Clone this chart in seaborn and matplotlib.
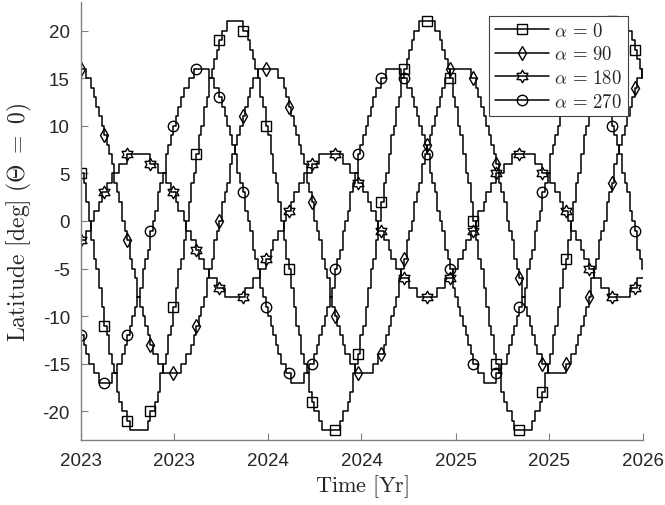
import numpy as np
import pandas as pd
import matplotlib
matplotlib.use('Agg')
import matplotlib.pyplot as plt
import matplotlib.dates as mdates
from matplotlib.path import Path
import seaborn as sns

# Latitude (deg), one value every 5 days from 2023-01-01
start_date = '2023-01-01'
sample_step = '5D'

lat_a0 = [
    5, 4, 2, 0, -2, -4, -5, -7, -9, -11, -12, -14, -15, -16, -18, -19, -20, -20, -21, -22, -22, -22,
    -22, -22, -22, -22, -21, -20, -20, -19, -18, -16, -15, -14, -12, -11, -9, -7, -5, -4, -2, 0,
    2, 4, 5, 7, 9, 10, 12, 13, 15, 16, 17, 18, 19, 20, 20, 21, 21, 21,
    21, 21, 21, 20, 20, 19, 18, 17, 16, 15, 13, 12, 10, 9, 7, 5, 4, 2, 0, -2,
    -4, -5, -7, -9, -11, -12, -14, -15, -16, -18, -19, -20, -20, -21, -22, -22, -22,
    -22, -22, -22, -22, -21, -20, -20, -19, -18, -16, -15, -14, -12, -11, -9, -7, -5, -4, -2, 0,
    2, 4, 5, 7, 9, 10, 12, 13, 15, 16, 17, 18, 19, 20, 20, 21, 21, 21,
    21, 21, 21, 20, 20, 19, 18, 17, 16, 15, 13, 12, 10, 9, 7, 5, 4, 2, 0, -2,
    -4, -5, -7, -9, -11, -12, -14, -15, -16, -18, -19, -20, -20, -21, -22, -22, -22,
    -22, -22, -22, -22, -21, -20, -20, -19, -18, -16, -15, -14, -12, -11, -9, -7, -5, -4, -2, 0,
    2, 4, 5, 7, 9, 10, 12, 13, 15, 16, 17, 18, 19, 20, 20, 21, 21, 21,
    21, 21, 21, 20, 20, 19, 18, 17, 16, 15, 13,
]

lat_a90 = [
    16, 16, 15, 15, 14, 13, 12, 11, 10, 9, 8, 7, 6, 4, 3, 2, 0, -1, -2, -4,
    -5, -6, -8, -9, -10, -11, -12, -13, -14, -14, -15, -15, -16, -16, -16,
    -16, -16, -16, -16, -15, -15, -14, -14, -13, -12, -11, -10, -9, -8, -6, -5, -4, -2, -1, 0,
    2, 3, 4, 6, 7, 8, 9, 10, 11, 12, 13, 14, 15, 15, 16, 16, 16, 16,
    16, 16, 16, 16, 15, 15, 14, 13, 12, 11, 10, 9, 8, 7, 6, 4, 3, 2, 0, -1,
    -2, -4, -5, -6, -8, -9, -10, -11, -12, -13, -14, -14, -15, -15, -16, -16, -16,
    -16, -16, -16, -16, -15, -15, -14, -14, -13, -12, -11, -10, -9, -8, -6, -5, -4, -2, -1, 0,
    2, 3, 4, 6, 7, 8, 9, 10, 11, 12, 13, 14, 15, 15, 16, 16, 16, 16,
    16, 16, 16, 16, 15, 15, 14, 13, 12, 11, 10, 9, 8, 7, 6, 4, 3, 2, 0, -1,
    -2, -4, -5, -6, -8, -9, -10, -11, -12, -13, -14, -14, -15, -15, -16, -16, -16,
    -16, -16, -16, -16, -15, -15, -14, -14, -13, -12, -11, -10, -9, -8, -6, -5, -4, -2, -1, 0,
    2, 3, 4, 6, 7, 8, 9, 10, 11, 12, 13, 14, 15, 15, 16, 16,
]

lat_a180 = [
    -2, -2, -1, -1, 0, 1, 1, 2, 3, 3, 4, 4, 5, 5, 5, 6, 6, 6, 7, 7, 7, 7,
    7, 7, 7, 7, 7, 6, 6, 6, 5, 5, 5, 4, 4, 3, 3, 2, 1, 1, 0, -1,
    -1, -2, -2, -3, -4, -4, -5, -5, -6, -6, -6, -7, -7, -7, -8, -8, -8, -8,
    -8, -8, -8, -8, -7, -7, -7, -6, -6, -6, -5, -5, -4, -4, -3, -2, -2, -1, -1, 0,
    1, 1, 2, 3, 3, 4, 4, 5, 5, 5, 6, 6, 6, 7, 7, 7, 7,
    7, 7, 7, 7, 7, 6, 6, 6, 5, 5, 5, 4, 4, 3, 3, 2, 1, 1, 0, -1,
    -1, -2, -2, -3, -4, -4, -5, -5, -6, -6, -6, -7, -7, -7, -8, -8, -8, -8,
    -8, -8, -8, -8, -7, -7, -7, -6, -6, -6, -5, -5, -4, -4, -3, -2, -2, -1, -1, 0,
    1, 1, 2, 3, 3, 4, 4, 5, 5, 5, 6, 6, 6, 7, 7, 7, 7,
    7, 7, 7, 7, 7, 6, 6, 6, 5, 5, 5, 4, 4, 3, 3, 2, 1, 1, 0, -1,
    -1, -2, -2, -3, -4, -4, -5, -5, -6, -6, -6, -7, -7, -7, -8, -8, -8, -8,
    -8, -8, -8, -8, -7, -7, -7, -6, -6, -6, -5,
]

lat_a270 = [
    -12, -13, -14, -15, -15, -16, -16, -17, -17,
    -17, -17, -17, -16, -16, -15, -15, -14, -13, -12, -11, -10, -9, -8, -7, -5, -4, -3, -1, 0,
    1, 3, 4, 5, 7, 8, 9, 10, 11, 12, 13, 14, 14, 15, 15, 16, 16, 16,
    16, 16, 16, 15, 15, 14, 14, 13, 12, 11, 10, 9, 8, 7, 5, 4, 3, 1, 0, -1,
    -3, -4, -5, -7, -8, -9, -10, -11, -12, -13, -14, -15, -15, -16, -16, -17, -17,
    -17, -17, -17, -16, -16, -15, -15, -14, -13, -12, -11, -10, -9, -8, -7, -5, -4, -3, -1, 0,
    1, 3, 4, 5, 7, 8, 9, 10, 11, 12, 13, 14, 14, 15, 15, 16, 16, 16,
    16, 16, 16, 15, 15, 14, 14, 13, 12, 11, 10, 9, 8, 7, 5, 4, 3, 1, 0, -1,
    -3, -4, -5, -7, -8, -9, -10, -11, -12, -13, -14, -15, -15, -16, -16, -17, -17,
    -17, -17, -17, -16, -16, -15, -15, -14, -13, -12, -11, -10, -9, -8, -7, -5, -4, -3, -1, 0,
    1, 3, 4, 5, 7, 8, 9, 10, 11, 12, 13, 14, 14, 15, 15, 16, 16, 16,
    16, 16, 16, 15, 15, 14, 14, 13, 12, 11, 10, 9, 8, 7, 5, 4, 3, 1, 0, -1,
    -3, -4, -5, -7,
]

series_labels = [r'$\alpha\,=\,0$', r'$\alpha\,=\,90$', r'$\alpha\,=\,180$', r'$\alpha\,=\,270$']
xtick_dates = ['2023-01-01', '2023-07-02', '2024-01-01', '2024-07-01',
               '2025-01-01', '2025-07-02', '2026-01-01']
yticks = [-20, -15, -10, -5, 0, 5, 10, 15, 20]

# styling
hexagram = Path.unit_regular_star(6, innerCircle=0.577)
markers = ['s', 'd', hexagram, 'o']
marker_sizes = [7, 7, 9, 7.5]
axis_gray = '#808080'
text_gray = '#262626'

sns.set_style('ticks')
plt.rcParams['font.family'] = ['Liberation Sans', 'DejaVu Sans']
plt.rcParams['mathtext.fontset'] = 'cm'
plt.rcParams['axes.unicode_minus'] = False

fig = plt.figure(figsize=(6.65, 5.06), dpi=100)
ax = fig.add_axes([0.1218, 0.1285, 0.8451, 0.8656])

all_series = [lat_a0, lat_a90, lat_a180, lat_a270]
for vals, mk, ms, lab in zip(all_series, markers, marker_sizes, series_labels):
    df = pd.DataFrame({
        'time': pd.date_range(start_date, periods=len(vals), freq=sample_step),
        'lat': vals,
    })
    sns.lineplot(data=df, x='time', y='lat', ax=ax, color='black', lw=1.1,
                 drawstyle='steps-post', marker=mk, markevery=9, markersize=ms,
                 markerfacecolor='none', markeredgecolor='black', markeredgewidth=1.0,
                 label=lab, legend=False)

ax.set_xlim(pd.Timestamp('2023-01-01'), pd.Timestamp('2026-01-01'))
ax.set_ylim(-23, 23)
ax.set_xticks(pd.to_datetime(xtick_dates))
ax.xaxis.set_major_formatter(mdates.DateFormatter('%Y'))
ax.set_yticks(yticks)

sns.despine(ax=ax)
for side in ['left', 'bottom']:
    ax.spines[side].set_color(axis_gray)
    ax.spines[side].set_linewidth(1.0)
ax.tick_params(direction='in', length=5, width=0.8, color=axis_gray,
               labelcolor=text_gray, labelsize=13.5)
ax.tick_params(axis='x', pad=9)
ax.tick_params(axis='y', pad=8)

ax.set_xlabel(r'$\mathrm{Time\ [Yr]}$', fontsize=16, color=text_gray, labelpad=2)
ax.set_ylabel(r'$\mathrm{Latitude\ [deg]\ (\Theta\ =\ 0)}$', fontsize=17,
              color=text_gray, labelpad=6)

leg = ax.legend(loc='upper right', bbox_to_anchor=(0.973, 0.968), borderaxespad=0,
                frameon=True, fancybox=False, framealpha=1, edgecolor='#404040',
                fontsize=13.5, handlelength=2.9, handletextpad=0.25, labelspacing=0.3,
                borderpad=0.3)
leg.get_frame().set_linewidth(0.8)

fig.savefig('out.png', dpi=100)
